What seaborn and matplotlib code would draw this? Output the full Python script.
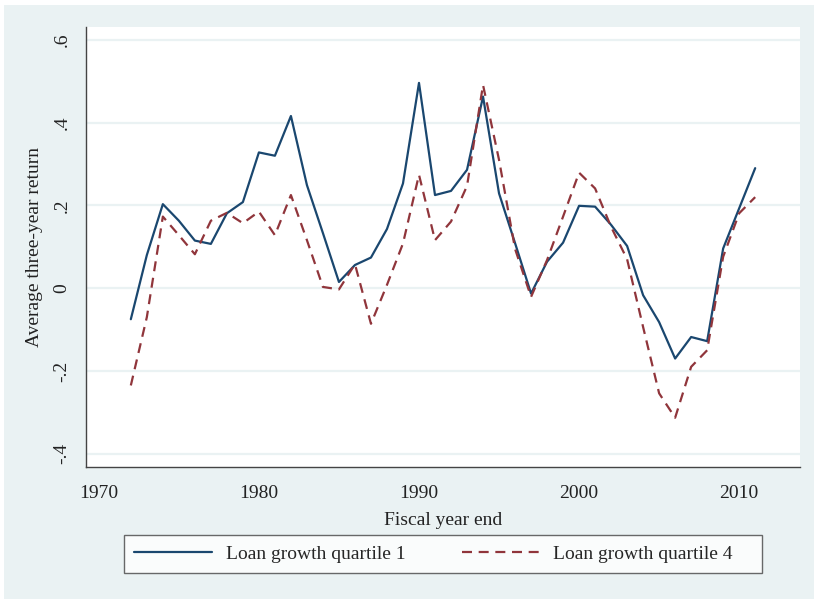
import numpy as np
import pandas as pd
import matplotlib
matplotlib.use("Agg")
import matplotlib.pyplot as plt
import seaborn as sns
from matplotlib.lines import Line2D
from matplotlib.patches import Rectangle

# ================= data =================
YEARS = list(range(1972, 2012))
Q1 = [-0.075, 0.080, 0.203, 0.163, 0.115, 0.107, 0.181, 0.208, 0.328, 0.320,
      0.416, 0.249, 0.133, 0.015, 0.056, 0.074, 0.143, 0.253, 0.496, 0.225,
      0.235, 0.286, 0.463, 0.229, 0.109, -0.013, 0.064, 0.110, 0.199, 0.197,
      0.153, 0.102, -0.017, -0.082, -0.170, -0.118, -0.128, 0.096, 0.193, 0.290]
Q4 = [-0.235, -0.070, 0.173, 0.128, 0.082, 0.163, 0.182, 0.157, 0.185, 0.128,
      0.225, 0.116, 0.003, -0.003, 0.058, -0.086, 0.008, 0.108, 0.274, 0.116,
      0.161, 0.247, 0.491, 0.310, 0.095, -0.021, 0.068, 0.173, 0.279, 0.241,
      0.148, 0.070, -0.094, -0.254, -0.313, -0.190, -0.150, 0.076, 0.181, 0.220]
LABELS = ["Loan growth quartile 1", "Loan growth quartile 4"]
X_TICKS = [1970, 1980, 1990, 2000, 2010]
Y_TICKS = [-0.4, -0.2, 0, 0.2, 0.4, 0.6]
Y_TICKLABELS = ["-.4", "-.2", "0", ".2", ".4", ".6"]

# ================= style =================
BG = "#EAF2F3"
NAVY = "#1a476f"
MAROON = "#90353b"

sns.set_theme(style="white")
plt.rcParams["font.family"] = ["Liberation Serif", "DejaVu Serif"]
plt.rcParams["font.size"] = 14

df = pd.DataFrame({"year": YEARS + YEARS,
                   "ret": Q1 + Q4,
                   "group": [LABELS[0]] * len(YEARS) + [LABELS[1]] * len(YEARS)})

fig = plt.figure(figsize=(8.16, 5.99), dpi=100, facecolor="white")
# light background panel with a thin white margin (Stata s2color look)
fig.patches.append(Rectangle((4 / 816, 0), 810 / 816, 594 / 599,
                             transform=fig.transFigure, facecolor=BG,
                             edgecolor="none", zorder=-10))

ax = fig.add_axes([0.1054, 0.2204, 0.8750, 0.7345])
ax.set_facecolor("white")

sns.lineplot(data=df, x="year", y="ret", hue="group", style="group",
             palette=[NAVY, MAROON], dashes=["", (4.5, 3)],
             linewidth=1.6, ax=ax, legend=False)

ax.set_xlim(1969.2, 2013.8)
ax.set_ylim(-0.432, 0.631)
ax.set_xticks(X_TICKS)
ax.set_yticks(Y_TICKS)
ax.set_yticklabels(Y_TICKLABELS, rotation=90, va="center")
ax.tick_params(axis="both", direction="out", length=5, width=1, color="#555555",
               labelsize=14, labelcolor="#222222")
ax.tick_params(axis="x", pad=8)
ax.tick_params(axis="y", pad=6)
ax.yaxis.grid(True, color=BG, linewidth=1.6)
ax.xaxis.grid(False)
for side in ["top", "right"]:
    ax.spines[side].set_visible(False)
for side in ["left", "bottom"]:
    ax.spines[side].set_color("#444444")
    ax.spines[side].set_linewidth(1.0)

ax.set_xlabel("Fiscal year end", fontsize=14, color="#222222", labelpad=7)
ax.set_ylabel("Average three-year return", fontsize=14, color="#222222", labelpad=8)

# legend box below the plot (extra room on the right like Stata's key box)
handles = [Line2D([0], [0], color=NAVY, lw=1.6),
           Line2D([0], [0], color=MAROON, lw=1.6, linestyle=(0, (4.5, 3)))]
leg = fig.legend(handles, [LABELS[0], LABELS[1] + "    "], loc="center",
                 bbox_to_anchor=(0.543, 0.0751),
                 ncol=2, frameon=True, fancybox=False, fontsize=14,
                 handlelength=4.0, columnspacing=2.9, borderpad=0.5,
                 handletextpad=0.7, borderaxespad=0)
leg.get_frame().set_edgecolor("#444444")
leg.get_frame().set_linewidth(1.0)
leg.get_frame().set_facecolor("white")

fig.savefig("out.png", dpi=100, facecolor="white")
